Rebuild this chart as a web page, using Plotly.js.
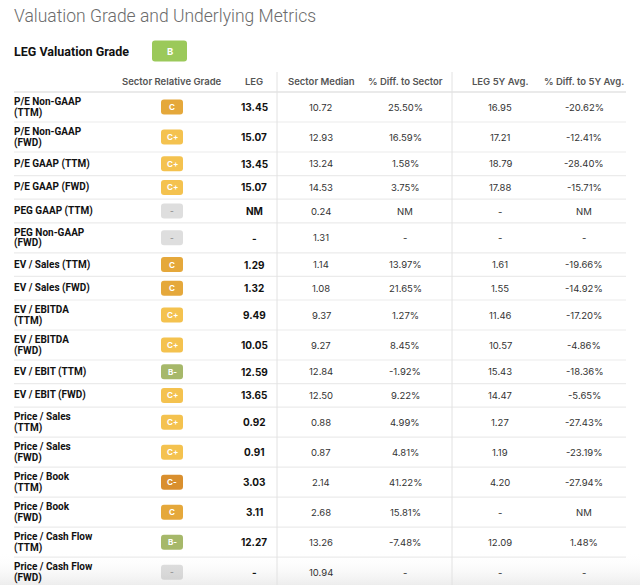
<!DOCTYPE html>
<html>
<head>
<meta charset="utf-8">
<script src="https://cdn.plot.ly/plotly-3.0.1.min.js"></script>
<style>
  body { margin: 0; background: #fff; }
  #chart { width: 640px; height: 585px; }
</style>
</head>
<body>
<div id="chart"></div>
<script>
// table data
const headers = ['', 'Sector Relative Grade', 'LEG', 'Sector Median', '% Diff. to Sector', 'LEG 5Y Avg.', '% Diff. to 5Y Avg.'];
const metrics = [
  'P/E Non-GAAP<br>(TTM)', 'P/E Non-GAAP<br>(FWD)', 'P/E GAAP (TTM)', 'P/E GAAP (FWD)',
  'PEG GAAP (TTM)', 'PEG Non-GAAP<br>(FWD)', 'EV / Sales (TTM)', 'EV / Sales (FWD)',
  'EV / EBITDA<br>(TTM)', 'EV / EBITDA<br>(FWD)', 'EV / EBIT (TTM)', 'EV / EBIT (FWD)',
  'Price / Sales<br>(TTM)', 'Price / Sales<br>(FWD)', 'Price / Book<br>(TTM)', 'Price / Book<br>(FWD)',
  'Price / Cash Flow<br>(TTM)', 'Price / Cash Flow<br>(FWD)'
];
const grades = ['C', 'C+', 'C+', 'C+', '-', '-', 'C', 'C', 'C+', 'C+', 'B-', 'C+', 'C+', 'C+', 'C-', 'C', 'B-', '-'];
const legValues = ['13.45', '15.07', '13.45', '15.07', 'NM', '-', '1.29', '1.32', '9.49', '10.05', '12.59', '13.65', '0.92', '0.91', '3.03', '3.11', '12.27', '-'];
const sectorMedian = ['10.72', '12.93', '13.24', '14.53', '0.24', '1.31', '1.14', '1.08', '9.37', '9.27', '12.84', '12.50', '0.88', '0.87', '2.14', '2.68', '13.26', '10.94'];
const diffToSector = ['25.50%', '16.59%', '1.58%', '3.75%', 'NM', '-', '13.97%', '21.65%', '1.27%', '8.45%', '-1.92%', '9.22%', '4.99%', '4.81%', '41.22%', '15.81%', '-7.48%', '-'];
const leg5yAvg = ['16.95', '17.21', '18.79', '17.88', '-', '-', '1.61', '1.55', '11.46', '10.57', '15.43', '14.47', '1.27', '1.19', '4.20', '-', '12.09', '-'];
const diffTo5yAvg = ['-20.62%', '-12.41%', '-28.40%', '-15.71%', 'NM', '-', '-19.66%', '-14.92%', '-17.20%', '-4.86%', '-18.36%', '-5.65%', '-27.43%', '-23.19%', '-27.94%', 'NM', '1.48%', '-'];
const overallGrade = 'B';

// layout constants (pixel space)
const FONT = 'Inter, "Noto Sans", sans-serif';
const LABEL_FONT = 'Roboto, "Noto Sans", sans-serif';
const colX = [12, 172, 254, 321, 405, 500, 584];
const TABLE_LEFT = 14, TABLE_RIGHT = 626;
const HEADER_Y = 81, BODY_TOP = 92;
const ROW_H1 = 23.6, ROW_H2 = 30, LINE_GAP = 11;
const dividers = [277, 452];

const gradeColors = { 'B': '#9bc95a', 'B-': '#a6b86a', 'C+': '#f4c24f', 'C': '#e5a83b', 'C-': '#d98f2e', '-': '#dedede' };

const rowTop = [], rowMid = [];
let yCursor = BODY_TOP;
metrics.forEach(m => {
  const h = m.includes('<br>') ? ROW_H2 : ROW_H1;
  rowTop.push(yCursor);
  rowMid.push(yCursor + h / 2);
  yCursor += h;
});

const annotations = [];
const addText = (text, x, y, opts) => annotations.push(Object.assign({
  text, x, y, xref: 'x', yref: 'y', showarrow: false, xanchor: 'center', yanchor: 'middle'
}, opts));

// title block
addText('Valuation Grade and Underlying Metrics', 12, 16, { xanchor: 'left', font: { family: LABEL_FONT, size: 17.5, color: '#6b6b6b', weight: 300 } });
addText('LEG Valuation Grade', 12, 51, { xanchor: 'left', font: { family: LABEL_FONT, size: 12.5, color: '#111', weight: 'bold' } });
addText(overallGrade, 169.5, 51, { font: { family: FONT, size: 9.5, color: '#fff', weight: 'bold' } });

// header
headers.forEach((h, i) => {
  if (h) addText(h, colX[i], HEADER_Y, { font: { family: FONT, size: 9.5, color: '#555', weight: 600 } });
});

// body
metrics.forEach((m, r) => {
  const lines = m.split('<br>');
  lines.forEach((ln, k) => {
    const y = rowMid[r] + (k - (lines.length - 1) / 2) * LINE_GAP;
    addText(ln, colX[0], y, { xanchor: 'left', font: { family: LABEL_FONT, size: 10, color: '#111', weight: 'bold' } });
  });
  addText(grades[r], colX[1], rowMid[r], { font: { family: FONT, size: 8, color: grades[r] === '-' ? '#9a9a9a' : '#fff', weight: 'bold' } });
  addText(legValues[r], colX[2], rowMid[r], { font: { family: FONT, size: 10, color: '#111', weight: 'bold' } });
  [sectorMedian, diffToSector, leg5yAvg, diffTo5yAvg].forEach((arr, c) => {
    addText(arr[r], colX[c + 3], rowMid[r], { font: { family: FONT, size: 9.5, color: '#333' } });
  });
});

// grid lines
const shapes = [];
shapes.push({ type: 'line', xref: 'x', yref: 'y', x0: TABLE_LEFT, x1: TABLE_RIGHT, y0: BODY_TOP, y1: BODY_TOP, line: { color: '#d6d6d6', width: 1.2 } });
rowTop.slice(1).forEach(y => shapes.push({ type: 'line', xref: 'x', yref: 'y', x0: TABLE_LEFT, x1: TABLE_RIGHT, y0: y, y1: y, line: { color: '#ebebeb', width: 1.2 } }));
dividers.forEach(x => shapes.push({ type: 'line', xref: 'x', yref: 'y', x0: x, x1: x, y0: 72, y1: 585, line: { color: '#e2e2e2', width: 1 } }));

const badgeTrace = {
  type: 'bar', orientation: 'h',
  y: rowMid, x: grades.map(() => 22), base: grades.map(() => colX[1] - 11),
  width: 15,
  marker: { color: grades.map(g => gradeColors[g]), cornerradius: 3 },
  hoverinfo: 'skip'
};

const overallTrace = {
  type: 'bar', orientation: 'h',
  y: [51], x: [35], base: [152], width: 21,
  marker: { color: gradeColors[overallGrade], cornerradius: 3 },
  hoverinfo: 'skip'
};

// soft fade at the bottom edge
const fadeTrace = {
  type: 'scatter', mode: 'none',
  x: [0, 640, 640, 0, 0], y: [552, 552, 585, 585, 552],
  fill: 'toself',
  fillgradient: { type: 'vertical', colorscale: [[0, 'rgba(0,0,0,0.07)'], [1, 'rgba(255,255,255,0)']] },
  hoverinfo: 'skip'
};

const layout = {
  width: 640, height: 585,
  margin: { l: 0, r: 0, t: 0, b: 0 },
  paper_bgcolor: '#fff', plot_bgcolor: '#fff',
  showlegend: false,
  xaxis: { range: [0, 640], visible: false, fixedrange: true },
  yaxis: { range: [585, 0], visible: false, fixedrange: true },
  shapes, annotations
};

Plotly.newPlot('chart', [fadeTrace, badgeTrace, overallTrace], layout, { staticPlot: true });
</script>
</body>
</html>
